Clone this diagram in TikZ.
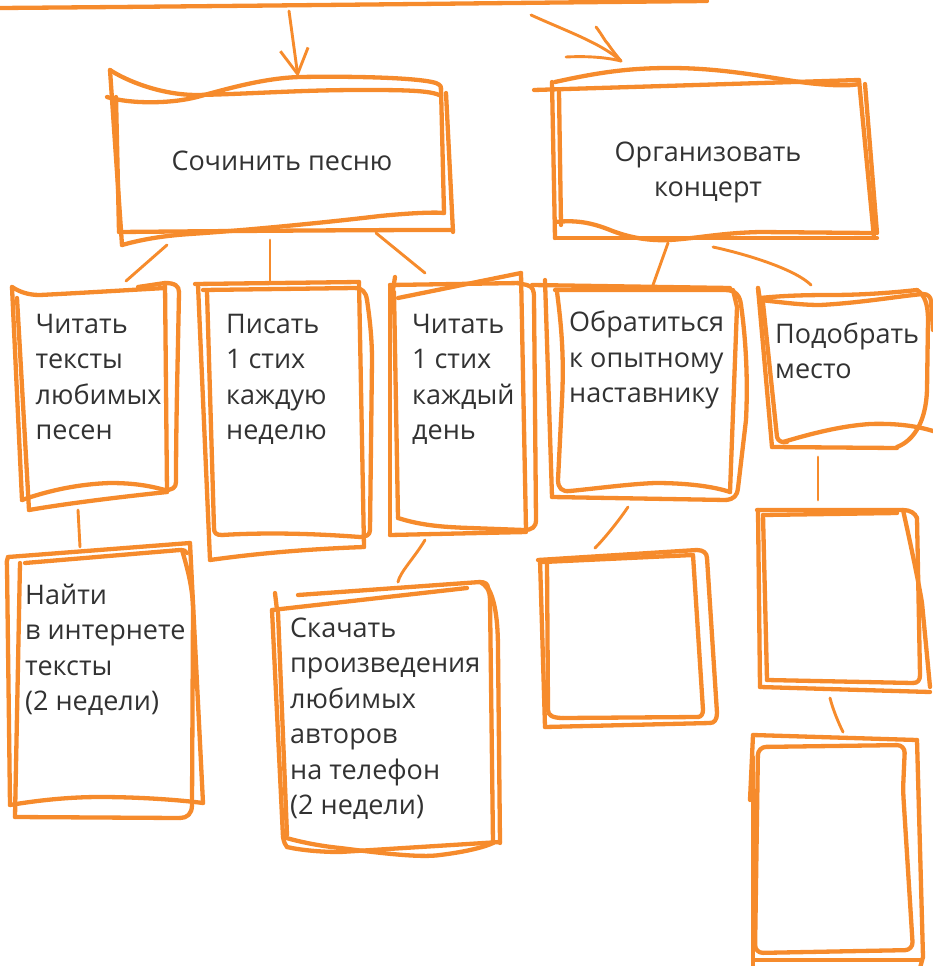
\documentclass[tikz,border=0pt]{standalone}
\usepackage{fontspec}
\setmainfont{Open Sans}
\usetikzlibrary{calc,arrows.meta}
\definecolor{orz}{RGB}{246,139,44}
\definecolor{txtc}{RGB}{50,50,50}
\begin{document}
\begin{tikzpicture}[x=1pt,y=-1pt,
 sk/.style={draw=orz,line width=4.3pt,line cap=round,line join=round},
 cn/.style={draw=orz,line width=2.9pt,line cap=round,line join=round},
 bx/.style={inner sep=0pt,outer sep=0pt,anchor=north west},
 lbl/.style={font=\fontsize{27}{35.5}\selectfont,text=txtc,inner sep=0pt,anchor=north west,align=left},
 lblc/.style={lbl,anchor=north,align=center}]
\useasboundingbox (0,0) rectangle (933,966);
% box nodes
\node[bx,minimum width=337pt,minimum height=170pt] (A) at (110,70) {};
\node[bx,minimum width=322pt,minimum height=162pt] (B) at (548,80) {};
\node[bx,minimum width=168pt,minimum height=223pt] (C) at (12,285) {};
\node[bx,minimum width=168pt,minimum height=278pt] (D) at (197,282) {};
\node[bx,minimum width=147pt,minimum height=265pt] (E) at (388,272) {};
\node[bx,minimum width=197pt,minimum height=215pt] (F) at (545,285) {};
\node[bx,minimum width=175pt,minimum height=157pt] (G) at (758,290) {};
\node[bx,minimum width=197pt,minimum height=262pt] (H) at (8,543) {};
\node[bx,minimum width=226pt,minimum height=275pt] (I) at (272,580) {};
\node[bx,minimum width=180pt,minimum height=179pt] (J) at (540,548) {};
\node[bx,minimum width=170pt,minimum height=182pt] (K) at (755,508) {};
\node[bx,minimum width=183pt,minimum height=231pt] (L) at (750,735) {};
% labels
\node[lblc] (tA) at (282,145) {\rule{0pt}{25pt}Сочинить песню};
\node[lblc] (tB) at (708,136) {\rule{0pt}{25pt}Организовать\\концерт};
\node[lbl] (tC) at (35.5,308) {\rule{0pt}{25pt}Читать\\тексты\\любимых\\песен};
\node[lbl] (tD) at (226,308) {\rule{0pt}{25pt}Писать\\1 стих\\каждую\\неделю};
\node[lbl] (tE) at (412,308) {\rule{0pt}{25pt}Читать\\1 стих\\каждый\\день};
\node[lbl] (tF) at (569,306.5) {\rule{0pt}{25pt}Обратиться\\к опытному\\наставнику};
\node[lbl] (tG) at (775,318) {\rule{0pt}{25pt}Подобрать\\место};
\node[lbl] (tH) at (25,579) {\rule{0pt}{25pt}Найти\\в интернете\\тексты\\(2 недели)};
\node[lbl] (tI) at (290,612) {\rule{0pt}{25pt}Скачать\\произведения\\любимых\\авторов\\на телефон\\(2 недели)};
% top line and arrows
\coordinate (t0) at (0,8);
\coordinate (t1) at (707,1);
\draw[sk] (t0) .. controls (250,6) and (500,3) .. (t1);
\coordinate (a1s) at (289,11);
\draw[cn,-{Straight Barb[length=25pt,width=28pt]}] (a1s) -- ($(A.north west)+(188,7)$);
\coordinate (a2s) at (531,15);
\coordinate (b2) at ($(B.north west)+(73,-19)$);
\draw[cn] (a2s) .. controls +(35,16) and +(-20,-18) .. (b2);
\draw[cn] (596,27) .. controls (603,36) and (604,40) .. (608,44) .. controls (612,50) and (616,55) .. (b2);
\draw[cn] (566,57) .. controls (585,56) and (605,57) .. (b2);
% box A
\draw[sk] (110,70) .. controls (125,80) and (160,95) .. (197,95) .. controls (250,94) and (300,90) .. (360,90) .. controls (400,90) and (432,90) .. (441,96);
\draw[sk] (107,97) .. controls (130,104) and (170,104) .. (197,97) .. controls (230,88) and (265,78) .. (300,77) .. controls (360,76) and (420,78) .. (436,83) .. controls (441,85) and (442,88) .. (441,90);
\draw[sk] (110,70) -- (122,245);
\draw[sk] (116,97) -- (119,232);
\draw[sk] (441,88) -- (444,213);
\draw[sk] (446,93) -- (453,232);
\draw[sk] (119,232) .. controls (230,231) and (350,230) .. (453,230);
\draw[sk] (122,245) .. controls (140,240) and (160,236) .. (190,234) .. controls (250,230) and (330,222) .. (380,216) .. controls (410,213) and (435,212) .. (444,213);
% box B
\draw[sk] (555,82) .. controls (600,72) and (630,68) .. (670,68) .. controls (720,68) and (760,76) .. (800,82) .. controls (830,86) and (850,86) .. (859,84);
\draw[sk] (534,90) -- (859,80);
\draw[sk] (552,82) -- (555,238);
\draw[sk] (559,92) -- (561,225);
\draw[sk] (859,80) -- (874,238);
\draw[sk] (865,84) -- (877,233);
\draw[sk] (555,238) -- (877,238);
\draw[sk] (555,222) .. controls (575,220) and (590,222) .. (610,230) .. controls (630,238) and (650,241) .. (670,240) .. controls (700,238) and (720,233) .. (760,232) -- (871,233);
% box C
\draw[sk] (12,287) .. controls (20,292) and (28,295) .. (40,295) .. controls (80,293) and (130,290) .. (165,288);
\draw[sk] (138,287) -- (165,283) .. controls (175,283) and (179,286) .. (179,292);
\draw[sk] (12,287) -- (22,500);
\draw[sk] (17,298) -- (29,510);
\draw[sk] (165,283) -- (167,492);
\draw[sk] (179,292) .. controls (178,350) and (176,420) .. (176,482) .. controls (176,488) and (172,490) .. (165,490);
\draw[sk] (22,500) .. controls (50,490) and (80,484) .. (110,483) .. controls (135,483) and (150,486) .. (165,490);
\draw[sk] (29,510) .. controls (70,503) and (120,497) .. (167,492);
% box D
\draw[sk] (195,284) -- (359,282);
\draw[sk] (203,290) -- (355,288) .. controls (362,288) and (366,292) .. (367,300);
\draw[sk] (198,285) -- (210,560);
\draw[sk] (207,292) -- (214,528) .. controls (214,533) and (216,535) .. (222,535);
\draw[sk] (359,282) -- (364,547);
\draw[sk] (367,300) .. controls (370,320) and (372,340) .. (372,360) -- (370,530) .. controls (370,535) and (366,537) .. (360,537);
\draw[sk] (222,535) .. controls (270,532) and (320,534) .. (360,537);
\draw[sk] (210,560) .. controls (260,553) and (310,549) .. (364,547);
% box E
\draw[sk] (390,285) -- (521,283);
\draw[sk] (398,298) -- (521,273);
\draw[sk] (395,277) -- (393,290);
\draw[sk] (390,285) -- (390,535);
\draw[sk] (394,292) -- (398,518);
\draw[sk] (521,273) -- (526,530);
\draw[sk] (517,283) -- (527,285) .. controls (533,287) and (534,290) .. (534,298) -- (536,520) .. controls (536,527) and (532,530) .. (524,530);
\draw[sk] (390,535) -- (526,532);
\draw[sk] (398,518) .. controls (420,525) and (440,527) .. (470,528) -- (524,530);
% box F
\draw[sk] (532,285) -- (730,288);
\draw[sk] (555,290) -- (725,290) .. controls (736,290) and (740,296) .. (741,305);
\draw[sk] (545,280) -- (552,497);
\draw[sk] (557,292) .. controls (562,330) and (564,360) .. (562,400) -- (558,480) .. controls (558,488) and (562,492) .. (570,491);
\draw[sk] (733,290) -- (737,307) -- (730,492);
\draw[sk] (741,305) .. controls (746,340) and (748,380) .. (746,420) -- (738,488) .. controls (737,496) and (734,499) .. (726,500);
\draw[sk] (552,497) -- (726,500);
\draw[sk] (570,491) .. controls (600,488) and (630,484) .. (655,483) .. controls (690,483) and (715,487) .. (730,492);
% box G
\draw[sk] (758,288) -- (760,300);
\draw[sk] (760,298) .. controls (780,296) and (800,295) .. (830,295) .. controls (860,295) and (890,293) .. (917,290);
\draw[sk] (760,300) .. controls (780,302) and (800,305) .. (820,305) .. controls (860,303) and (900,296) .. (923,294) .. controls (928,294) and (931,297) .. (931,302);
\draw[sk] (758,288) -- (772,447);
\draw[sk] (763,303) -- (777,437) .. controls (778,441) and (782,443) .. (787,442);
\draw[sk] (917,290) .. controls (925,295) and (928,305) .. (928,320) -- (927,390) .. controls (926,420) and (915,440) .. (897,447);
\draw[sk] (931,302) -- (933,330);
\draw[sk] (772,447) -- (897,448);
\draw[sk] (783,442) .. controls (810,434) and (840,426) .. (870,424) .. controls (900,423) and (920,427) .. (933,431);
% box H
\draw[sk] (8,557) -- (190,543);
\draw[sk] (25,563) -- (180,550) .. controls (184,550) and (186,551) .. (187,553);
\draw[sk] (8,557) .. controls (6,560) and (7,563) .. (7,567) -- (10,805);
\draw[sk] (20,563) -- (15,817);
\draw[sk] (190,543) -- (203,803);
\draw[sk] (182,550) .. controls (188,570) and (193,590) .. (193,610) -- (192,805) .. controls (192,814) and (187,818) .. (180,818);
\draw[sk] (10,805) .. controls (40,800) and (70,797) .. (100,797) .. controls (140,797) and (180,800) .. (203,803);
\draw[sk] (15,817) -- (180,818);
% box I
\draw[sk] (298,595) -- (480,582) .. controls (485,582) and (488,584) .. (488,588);
\draw[sk] (272,610) -- (467,588);
\draw[sk] (275,593) -- (277,610);
\draw[sk] (272,610) -- (283,837) .. controls (284,842) and (285,845) .. (287,847);
\draw[sk] (278,612) -- (287,835);
\draw[sk] (480,582) .. controls (486,585) and (490,590) .. (490,600) -- (493,843);
\draw[sk] (488,588) .. controls (495,600) and (498,620) .. (498,650) -- (500,843);
\draw[sk] (283,837) .. controls (300,842) and (320,846) .. (340,848) .. controls (380,853) and (420,858) .. (440,855) .. controls (465,852) and (485,847) .. (493,843);
\draw[sk] (287,847) .. controls (300,850) and (320,852) .. (340,852) -- (500,842);
% box J
\draw[sk] (538,560) -- (697,550) .. controls (703,550) and (707,553) .. (707,558);
\draw[sk] (543,562) -- (693,555);
\draw[sk] (540,560) -- (545,727);
\draw[sk] (547,563) -- (548,710) .. controls (548,715) and (552,718) .. (563,718);
\draw[sk] (707,558) -- (717,713) .. controls (717,720) and (714,723) .. (710,723);
\draw[sk] (693,555) -- (703,710) .. controls (703,714) and (701,717) .. (698,717);
\draw[sk] (545,727) -- (710,723);
\draw[sk] (563,718) -- (698,717);
% box K
\draw[sk] (757,510) -- (903,510) .. controls (910,510) and (915,513) .. (917,518);
\draw[sk] (763,515) -- (897,513);
\draw[sk] (758,510) -- (760,687);
\draw[sk] (763,515) -- (767,680);
\draw[sk] (903,510) .. controls (912,550) and (920,590) .. (922,603) -- (930,687);
\draw[sk] (917,518) -- (920,675) .. controls (920,680) and (918,683) .. (913,683);
\draw[sk] (760,687) -- (930,692);
\draw[sk] (767,680) -- (913,683);
% box L
\draw[sk] (753,735) -- (917,740);
\draw[sk] (753,735) -- (750,800);
\draw[sk,rounded corners=8pt] (758,747) -- (905,745) -- (903,790) -- (913,950) -- (755,953) -- cycle;
\draw[sk] (917,740) -- (923,957) -- (920,968);
\draw[sk] (753,757) -- (753,968);
\draw[sk] (755,960) -- (920,960);
% connectors
\draw[cn] ($(A.south west)+(57,5)$) -- ($(C.north west)+(114,-4)$);
\draw[cn] ($(A.south west)+(160,0)$) -- ($(D.north west)+(73,0)$);
\draw[cn] ($(A.south west)+(266,-7)$) -- ($(E.north west)+(37,1)$);
\draw[cn] ($(B.south west)+(120,1)$) -- ($(F.north west)+(108,0)$);
\draw[cn] ($(B.south west)+(165,5)$) .. controls +(37,8) and +(-15,-15) .. ($(G.north west)+(53,-5)$);
\draw[cn] ($(C.south west)+(66,2)$) -- ($(H.north west)+(72,4)$);
\draw[cn] ($(E.south west)+(37,3)$) .. controls +(-10,17) and +(2,-10) .. ($(I.north west)+(126,2)$);
\draw[cn] ($(F.south west)+(83,7)$) .. controls +(-10,15) and +(8,-8) .. ($(J.north west)+(55,0)$);
\draw[cn] ($(G.south west)+(60,10)$) -- ($(K.north west)+(63,-8)$);
\draw[cn] ($(K.south west)+(75,8)$) .. controls +(3,12) and +(-4,-8) .. ($(L.north west)+(93,-3)$);
\end{tikzpicture}
\end{document}
